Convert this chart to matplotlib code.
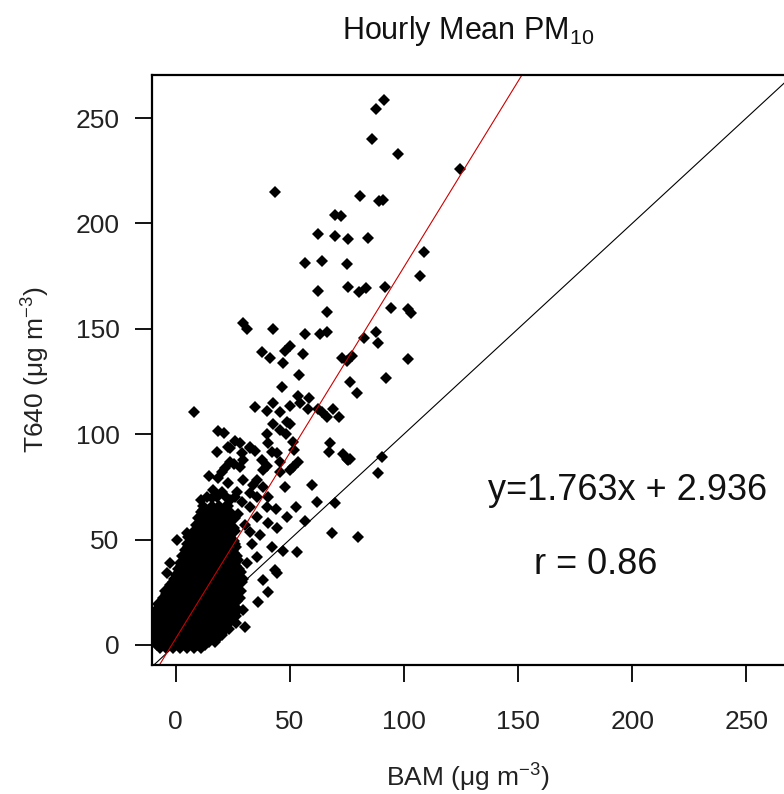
import matplotlib
matplotlib.use("Agg")
import matplotlib.pyplot as plt
import numpy as np

plt.rcParams['font.family'] = ['Liberation Sans', 'DejaVu Sans']
plt.rcParams['mathtext.fontset'] = 'custom'
plt.rcParams['mathtext.rm'] = 'Liberation Sans'
plt.rcParams['mathtext.it'] = 'Liberation Sans:italic'
plt.rcParams['mathtext.bf'] = 'Liberation Sans:bold'

# scattered hourly points (BAM, T640)
bam_out = [91.2, 87.7, 86, 97.3, 124.5, 43.5, 80.7, 89, 91, 69.8, 72.4, 62.3, 69.8, 75.5, 84.2,
           109, 56.7, 64, 75, 107, 62.3, 75.5, 80.3, 83.3, 91.6, 94.3, 101.7, 103, 66.3, 29.5,
           31.3, 42.7, 56.7, 63.2, 66.3, 88, 82.5, 88.6, 50, 47.9, 37.8, 55.8, 41.3, 47, 72.8,
           77.2, 75, 101.7, 54, 92, 76.3, 46.6, 79.4, 53.6, 58.4, 42.7, 54.5, 8.1, 34.8, 40,
           45.7, 50, 58, 62.3, 69, 64, 66.3, 71.5, 42.7, 50, 18.6, 21.2, 45.7, 40, 48.3,
           26, 28.2, 23, 32.6, 40.5, 51.4, 67.6, 18.2, 29, 34.8, 42.2, 44.4, 51.8, 67.1,
           73.3, 75, 76.3, 90.3, 23.8, 29.5, 37.8, 45.7, 53.6, 21.7, 28.2, 40, 51.4, 49,
           23.8, 32.6, 88.6, 75.5]
t640_out = [258.5, 254.3, 240, 233, 226, 215, 213, 210.6, 211, 204, 203.5, 195, 194, 192.6, 193,
            186.4, 181, 182, 180.7, 175, 168, 170, 167.5, 169.4, 170, 160, 159.4, 157.5, 158, 152.7,
            150, 150, 147.5, 147.5, 148.5, 148.5, 145.6, 143.3, 141.8, 139.5, 139, 138, 136, 134, 136,
            137, 134.7, 135.7, 128, 126.7, 124.8, 122.4, 119.5, 118, 117, 114.8, 114.8, 110.5, 113, 111,
            110.5, 113.4, 112, 112, 112, 110.5, 108, 108, 104.8, 104.8, 101.5, 100.6, 102, 100, 100,
            96.8, 95.8, 94, 94, 95.8, 96.3, 95.8, 91.6, 91, 92, 91.6, 91, 92.5, 91.6,
            90.6, 88.2, 88.2, 89.2, 86.8, 87.8, 87.8, 86.8, 86.8, 84, 84.4, 85, 84.4, 105.8,
            93.4, 93.4, 81.6, 87.8]

bam_mid = [20.3, 38.3, 45.7, 50, 18.6, 23, 29.5, 35.6, 34, 38.3, 47.9, 59.7, 16.4, 20.3, 26.9,
           32.6, 16, 23.8, 29, 35.6, 40.5, 32.6, 40, 44, 52.7, 61.9, 69.8, 12, 35.6, 48.8,
           56.7, 40.5, 44.4, 68.5, 79.8, 32.6, 5.5, 53, 47, 42.2, 43.5, 44.4, 38.3, 40.5, 36,
           30.4, -3.7, -2.4, -4.6, -9.8, 35.6, 31.3, 28.2, 29.5, -2.4, 0.7, 5, 18, 14.5, 25.5,
           27.5, 11, 22, 30.5, 33.5, 37, 26]
t640_mid = [82, 83, 82, 83, 79, 76.8, 78.3, 78.3, 76, 75, 75, 76, 73.5, 72.6, 72.6,
            72, 69.7, 68.8, 67.8, 70.2, 70.2, 65.5, 65.5, 64.5, 65.5, 67.8, 67.4, 64, 60.7, 60.7,
            58.8, 57.9, 55.5, 53, 51.2, 53.6, 51.2, 44, 44.6, 46.5, 35.6, 34, 30.8, 25, 20.4,
            8.5, 34, 27.5, 18, 11.9, 41.7, 38.9, 22.3, 16.6, 38.9, 49.8, 53, 51, 80, 86,
            62, 69, 66, 57, 48, 52, 60]

# dense core of the cloud, one row of BAM values per T640 level
core_t640 = [0, 3, 6, 9, 12, 15, 18, 21, 24, 27, 30, 33, 36, 39, 42, 45, 48, 51, 54, 57, 60, 63, 66, 70]
core_bam = [
    [-8, -5, -2, 1, 4, 7, 10, 13],
    [-9, -6, -3, 0, 3, 6, 9, 12, 15, 18],
    [-9, -6, -3, 0, 3, 6, 9, 12, 15, 18, 21],
    [-8, -5, -2, 1, 4, 7, 10, 13, 16, 19, 22],
    [-9, -6, -3, 0, 3, 6, 9, 12, 15, 18, 21, 24],
    [-8, -5, -2, 1, 4, 7, 10, 13, 16, 19, 22, 25],
    [-7, -4, -1, 2, 5, 8, 11, 14, 17, 20, 23, 26],
    [-6, -3, 0, 3, 6, 9, 12, 15, 18, 21, 24, 27],
    [-4, -1, 2, 5, 8, 11, 14, 17, 20, 23, 26],
    [-3, 0, 3, 6, 9, 12, 15, 18, 21, 24, 27],
    [-1, 2, 5, 8, 11, 14, 17, 20, 23, 26, 29],
    [0, 3, 6, 9, 12, 15, 18, 21, 24, 27],
    [1, 4, 7, 10, 13, 16, 19, 22, 25, 28],
    [2, 5, 8, 11, 14, 17, 20, 23, 26],
    [3, 6, 9, 12, 15, 18, 21, 24, 27],
    [4, 7, 10, 13, 16, 19, 22, 25],
    [5, 8, 11, 14, 17, 20, 23, 26],
    [6, 9, 12, 15, 18, 21, 24],
    [8, 11, 14, 17, 20, 23, 26],
    [9, 12, 15, 18, 21, 24],
    [10, 13, 16, 19, 22, 25],
    [11, 14, 17, 20, 24],
    [12, 16, 19, 23],
    [14, 18, 22, 26],
]

# in-between rows of the core
core2_t640 = [-1.5, 1.5, 4.5, 7.5, 10.5, 13.5, 16.5, 19.5, 22.5, 25.5, 28.5, 31.5, 34.5, 37.5,
              40.5, 43.5, 46.5, 49.5, 52.5, 55.5, 58.5, 61.5]
core2_bam = [
    [-7, -4, -1, 2, 5, 8, 11],
    [-9.5, -6.5, -3.5, -0.5, 2.5, 5.5, 8.5, 11.5, 14.5, 17.5],
    [-9.5, -6.5, -3.5, -0.5, 2.5, 5.5, 8.5, 11.5, 14.5, 17.5, 20.5],
    [-9.5, -6.5, -3.5, -0.5, 2.5, 5.5, 8.5, 11.5, 14.5, 17.5, 20.5, 23.5],
    [-9.5, -6.5, -3.5, -0.5, 2.5, 5.5, 8.5, 11.5, 14.5, 17.5, 20.5, 23.5, 26.5],
    [-9.5, -6.5, -3.5, -0.5, 2.5, 5.5, 8.5, 11.5, 14.5, 17.5, 20.5, 23.5, 26.5],
    [-8.5, -5.5, -2.5, 0.5, 3.5, 6.5, 9.5, 12.5, 15.5, 18.5, 21.5, 24.5, 27.5],
    [-7.5, -4.5, -1.5, 1.5, 4.5, 7.5, 10.5, 13.5, 16.5, 19.5, 22.5, 25.5],
    [-5.5, -2.5, 0.5, 3.5, 6.5, 9.5, 12.5, 15.5, 18.5, 21.5, 24.5, 27.5],
    [-4.5, -1.5, 1.5, 4.5, 7.5, 10.5, 13.5, 16.5, 19.5, 22.5, 25.5, 28.5],
    [-2.5, 0.5, 3.5, 6.5, 9.5, 12.5, 15.5, 18.5, 21.5, 24.5, 27.5],
    [-0.5, 2.5, 5.5, 8.5, 11.5, 14.5, 17.5, 20.5, 23.5, 26.5, 29.5],
    [1.5, 4.5, 7.5, 10.5, 13.5, 16.5, 19.5, 22.5, 25.5, 28.5],
    [2.5, 5.5, 8.5, 11.5, 14.5, 17.5, 20.5, 23.5, 26.5],
    [3.5, 6.5, 9.5, 12.5, 15.5, 18.5, 21.5, 24.5, 27.5],
    [4.5, 7.5, 10.5, 13.5, 16.5, 19.5, 22.5, 25.5],
    [5.5, 8.5, 11.5, 14.5, 17.5, 20.5, 23.5, 26.5],
    [7.5, 10.5, 13.5, 16.5, 19.5, 22.5, 25.5],
    [8.5, 11.5, 14.5, 17.5, 20.5, 23.5],
    [10.5, 13.5, 16.5, 19.5, 22.5, 25.5],
    [11.5, 14.5, 17.5, 21.5],
    [12.5, 15.5, 18.5, 22.5],
]

slope = 1.763
intercept = 2.936
r_value = 0.86

x_ticks = [0, 50, 100, 150, 200, 250]
y_ticks = [0, 50, 100, 150, 200, 250]

core_x = [b for row in core_bam + core2_bam for b in row]
core_y = [t for t, row in zip(core_t640 + core2_t640, core_bam + core2_bam) for b in row]
bam = np.array(core_x + bam_mid + bam_out)
t640 = np.array(core_y + t640_mid + t640_out)

fig = plt.figure(figsize=(7.84, 7.94), dpi=100)
ax = fig.add_axes([0.1939, 0.1625, 0.8061, 0.743])

ax.plot(bam, t640, 'D', color='black', ms=5.8, mew=0)
xs = np.array([-20, 300])
ax.plot(xs, xs, color='black', lw=0.8)
ax.plot(xs, slope * xs + intercept, color='#cc0000', lw=0.8)

ax.set_xlim(-10.3, 266.5)
ax.set_ylim(-9.5, 270.4)
ax.set_xticks(x_ticks)
ax.set_yticks(y_ticks)
ax.spines['right'].set_visible(False)
for s in ['left', 'bottom', 'top']:
    ax.spines[s].set_linewidth(1.6)
ax.tick_params(axis='both', direction='out', length=12.5, width=1.3, labelsize=19,
               labelcolor='#222222')
ax.tick_params(axis='x', pad=20)
ax.tick_params(axis='y', pad=11)

ax.text(198, 73.5, 'y=%.3fx + %.3f' % (slope, intercept), fontsize=26, ha='center', va='center',
        color='#111111')
ax.text(184, 38, 'r = %.2f' % r_value, fontsize=26, ha='center', va='center', color='#111111')

ax.set_title('Hourly Mean PM$_{10}$', fontsize=22, pad=26, color='#111111')
ax.set_xlabel('BAM (μg m$^{-3}$)', fontsize=19, labelpad=20, color='#222222')
ax.set_ylabel('T640 (μg m$^{-3}$)', fontsize=19, labelpad=17, color='#222222')

fig.savefig('out.png', dpi=100)
